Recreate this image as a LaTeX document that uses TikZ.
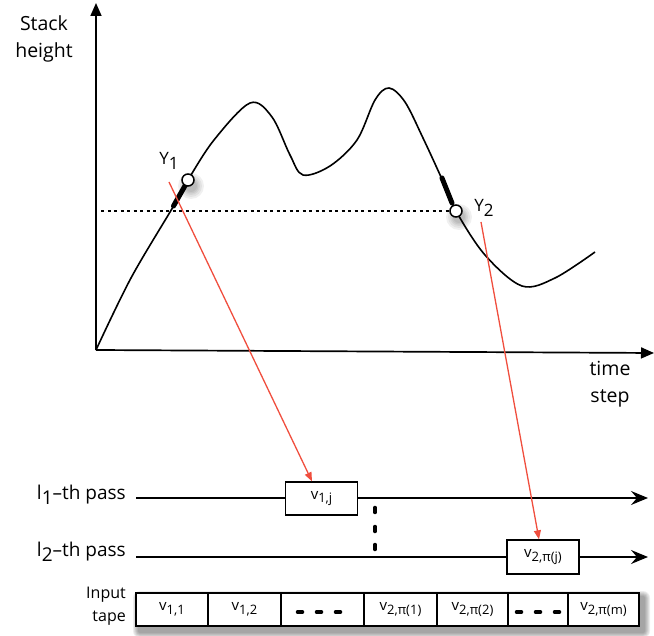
\documentclass[tikz,border=0pt]{standalone}
\usepackage{fontspec}
\setmainfont{Open Sans}
\usetikzlibrary{arrows.meta}
\definecolor{redarrow}{RGB}{240,78,62}
\newcommand\vsub[1]{v\raisebox{-3.5pt}{\fontsize{13}{13}\selectfont #1}}
\newcommand\lsub[1]{l\raisebox{-5pt}{#1}}
\begin{document}
\begin{tikzpicture}[x=1pt,y=-1pt,
  axis/.style={line width=1.7pt, -{Triangle[length=13pt,width=11pt]}},
  passline/.style={line width=1.5pt, -{Stealth[length=17pt,width=14pt,inset=6pt]}},
  redarr/.style={redarrow, line width=1.3pt, -{Triangle[length=9pt,width=7pt]}},
  lbl/.style={font=\fontsize{19.5}{27}\selectfont, align=center, inner sep=0pt},
  passlbl/.style={font=\fontsize{19}{20}\selectfont, inner sep=0pt, anchor=east},
  boxnode/.style={draw, line width=1.3pt, fill=white, inner sep=0pt, font=\fontsize{15}{15}\selectfont},
  cell/.style={draw, line width=1.3pt, inner sep=0pt, minimum height=33pt, font=\fontsize{15}{15}\selectfont},
  marker/.style={circle, draw, line width=1.5pt, fill=white, minimum size=12pt, inner sep=0pt},
  heavy/.style={line width=5pt, line cap=round},
  tapedash/.style={line width=3.5pt, line cap=round},
]
\useasboundingbox (0,0) rectangle (654,636);

% axes
\coordinate (O) at (96,350);
\coordinate (ytop) at (96,3);
\coordinate (xend) at (654,353);
\draw[axis] (O) -- (ytop);
\draw[axis] (O) -- (xend);
\node[lbl] (ylabel) at (44,39) {Stack\\height};
\node[lbl] (xlabel) at (610,384) {time\\step};

% dotted level line
\coordinate (dl) at (101,211);
\coordinate (dr) at (450,211);
\draw[line width=1.3pt, dash pattern=on 3pt off 3.5pt] (dl) -- (dr);

% curve
\draw[line width=1.6pt] plot[smooth, tension=0.55] coordinates {
 (96,350) (131,278) (173,207) (188,180) (214,140) (250,103) (272,117) (290,155) (303,175)
 (330,166) (357,140) (375,100) (389,88) (405,102) (423,138) (441,177) (456,211)
 (485,255) (522,286) (555,278) (595,252)};

% heavy segments
\draw[heavy] (173.5,206) -- (186,184);
\draw[heavy] (442,178) -- (452,203);

% marker shadows
\foreach \cx/\cy in {188/180,456/211}{
  \foreach \r in {13,11,9,7.5,6}{
    \fill[black, opacity=0.06] (\cx+3,\cy+6) circle (\r);
  }
}
% markers
\node[marker] (Y1c) at (188,180) {};
\node[marker] (Y2c) at (456,211) {};
\node[font=\fontsize{17}{18}\selectfont, inner sep=0pt] (Y1) at (169,161) {Y\raisebox{-5pt}{1}};
\node[font=\fontsize{17}{18}\selectfont, inner sep=0pt] (Y2) at (484,208) {Y\raisebox{-5pt}{2}};

% passes
\node[passlbl] (p1) at (126,495) {\lsub{1}–th pass};
\node[passlbl] (p2) at (126,552) {\lsub{2}–th pass};
\coordinate (l1s) at (136,498);
\coordinate (l1e) at (648,498);
\coordinate (l2s) at (136,557);
\coordinate (l2e) at (648,557);
\draw[passline] (l1s) -- (l1e);
\draw[passline] (l2s) -- (l2e);
\node[boxnode, minimum width=72pt, minimum height=33pt] (b1) at (321.5,498.5) {\vsub{1,j}};
\node[boxnode, minimum width=72pt, minimum height=34pt] (b2) at (543,557) {\vsub{2,π(j)}};

% vertical dots
\foreach \yy/\nm in {510/d1,529/d2,547/d3}{
  \coordinate (\nm a) at (375,\yy-2.5);
  \coordinate (\nm b) at (375,\yy+2.5);
  \draw[line width=3.5pt, line cap=round] (\nm a) -- (\nm b);
}

% red arrows
\coordinate (r1s) at (169,182);
\coordinate (r2s) at (481,222);
\draw[redarr] (r1s) -- (b1.north -| 312,0);
\draw[redarr] (r2s) -- (b2.north -| 539,0);

% tape
\node[font=\fontsize{16}{23}\selectfont, align=right, inner sep=0pt, anchor=east] (tapelbl) at (126,606) {Input\\tape};
\foreach \d in {7,6,5,4,3,2}{
  \fill[black, opacity=0.07, rounded corners=\d pt] (136+4-\d,593+5-\d) rectangle (639+4+\d,626+5+\d);
}
\fill[white] (136,593) rectangle (639,626);
\node[cell, minimum width=72pt] (c1) at (172,609.5) {\vsub{1,1}};
\node[cell, minimum width=73pt] (c2) at (244.5,609.5) {\vsub{1,2}};
\node[cell, minimum width=83pt] (c3) at (322.5,609.5) {};
\node[cell, minimum width=73pt] (c4) at (400.5,609.5) {\vsub{2,π(1)}};
\node[cell, minimum width=71pt] (c5) at (472.5,609.5) {\vsub{2,π(2)}};
\node[cell, minimum width=60pt] (c6) at (538,609.5) {};
\node[cell, minimum width=71pt] (c7) at (603.5,609.5) {\vsub{2,π(m)}};
\foreach \xx in {300,319,338}{ \draw[tapedash] (\xx-2.5,612) -- (\xx+2.5,612); }
\foreach \xx in {519,538,557}{ \draw[tapedash] (\xx-2.5,612) -- (\xx+2.5,612); }
\end{tikzpicture}
\end{document}
